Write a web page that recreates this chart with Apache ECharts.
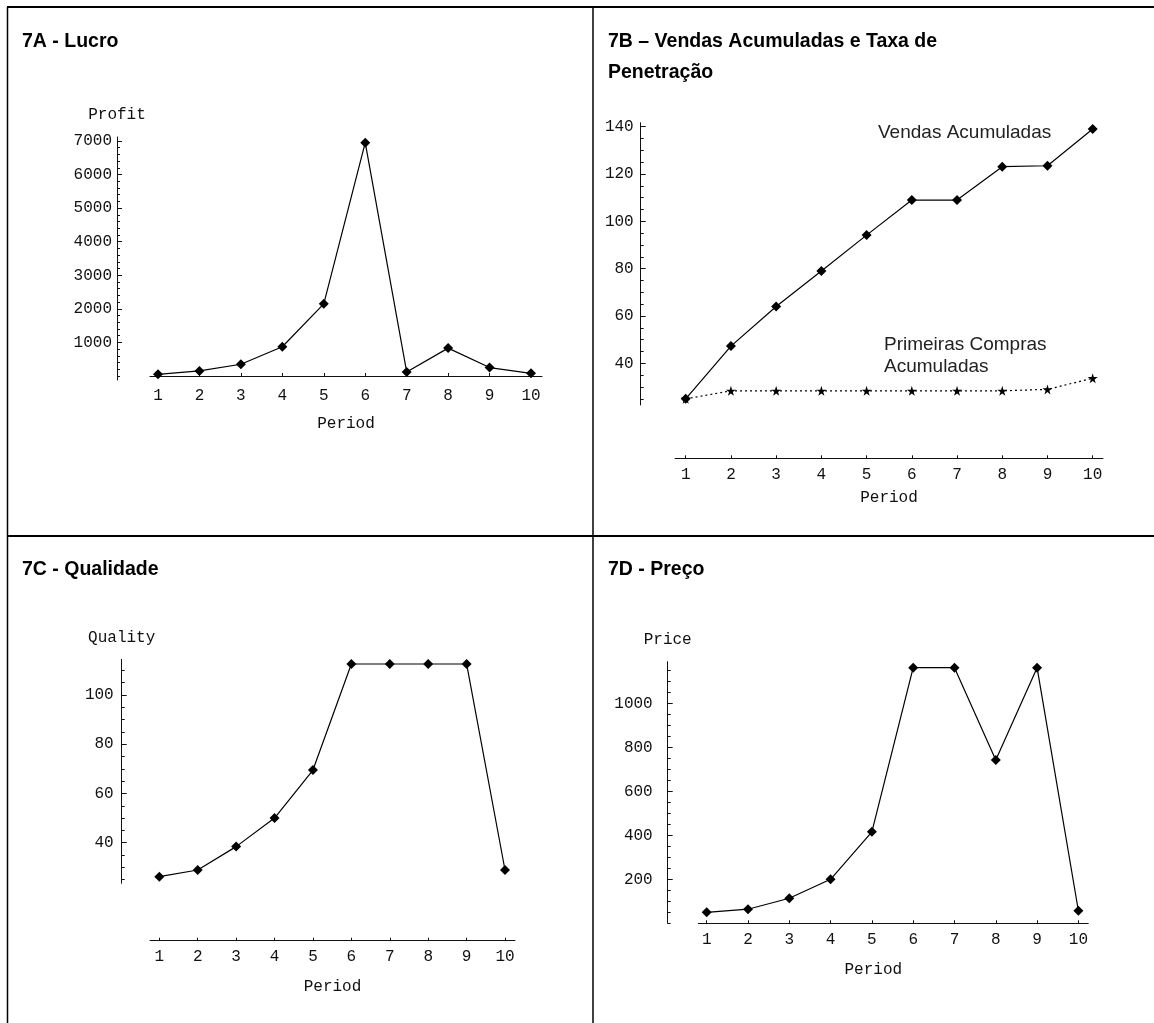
<!DOCTYPE html>
<html>
<head>
<meta charset="utf-8">
<title>Figura 7</title>
<script src="https://cdn.jsdelivr.net/npm/echarts@6.0.0/dist/echarts.min.js"></script>
<style>
  html, body { margin: 0; padding: 0; background: #fff; }
  #chart { width: 1154px; height: 1023px; }
</style>
</head>
<body>
<div id="chart"></div>
<script>
// periodos (eixo x de todos os graficos)
var periods = [1, 2, 3, 4, 5, 6, 7, 8, 9, 10];

// 7A - lucro
var profit = [50, 150, 350, 870, 2150, 6950, 120, 830, 250, 80];
var profitTicks = [1000, 2000, 3000, 4000, 5000, 6000, 7000];

// 7B - vendas acumuladas e primeiras compras acumuladas
var vendasAcum = [25, 47.3, 64, 79, 94.2, 109, 109, 123.1, 123.5, 139];
var primeirasAcum = [25, 28.4, 28.4, 28.4, 28.4, 28.4, 28.4, 28.4, 29, 33.7];
var vendasTicks = [40, 60, 80, 100, 120, 140];

// 7C - qualidade
var quality = [26.2, 28.9, 38.4, 50, 69.5, 112.6, 112.6, 112.6, 112.6, 28.9];
var qualityTicks = [40, 60, 80, 100];

// 7D - preco
var price = [50, 64, 114, 200, 416, 1162, 1162, 742, 1162, 57];
var priceTicks = [200, 400, 600, 800, 1000];

var MONO = '"Liberation Mono", "Courier New", monospace';
var SANS = '"Liberation Sans", Arial, sans-serif';
var INK = '#111';
var STAR = 'path://M50,0 L61,35 L98,35 L68,57 L79,91 L50,70 L21,91 L32,57 L2,35 L39,35 Z';

function pairs(ys) {
    return periods.map(function (p, i) { return [p, ys[i]]; });
}

// ticks menores do eixo y (so marcas, sem rotulo)
function steps(from, to, step) {
    var out = [];
    var v = Math.ceil(from / step) * step;
    for (; v <= to + 1e-9; v += step) out.push(+v.toFixed(6));
    return out;
}

// sem separador de milhar, como no Mathematica
function plain(v) { return String(v); }

// posicao de cada grafico (px) e faixa dos eixos
var panels = [
    { left: 150, top: 137, width: 392, height: 243, xMin: 0.807, xMax: 10.265,
      yMin: -120, yMax: 7120, yOffset: 33, xOffset: 0, onZero: true,
      ticks: profitTicks, minor: 200, yName: 'Profit', yMargin: 5, nameGap: 36, namePad: 0 },
    { left: 675, top: 122.7, width: 428, height: 282.3, xMin: 0.763, xMax: 10.228,
      yMin: 22.4, yMax: 141.7, yOffset: 34.3, xOffset: 53.3, onZero: false,
      ticks: vendasTicks, minor: 5, yName: '', yMargin: 7, nameGap: 31, namePad: 0 },
    { left: 150, top: 659.3, width: 365, height: 224, xMin: 0.758, xMax: 10.26,
      yMin: 23.5, yMax: 114.5, yOffset: 28.3, xOffset: 57.4, onZero: false,
      ticks: qualityTicks, minor: 5, yName: 'Quality', yMargin: 8, nameGap: 38, namePad: 0 },
    { left: 698.3, top: 661.7, width: 390, height: 261.6, xMin: 0.797, xMax: 10.24,
      yMin: 0, yMax: 1189, yOffset: 30.6, xOffset: 0, onZero: false,
      ticks: priceTicks, minor: 50, yName: 'Price', yMargin: 15, nameGap: 38, namePad: 40 }
];

var grids = [], xAxes = [], yAxes = [];
panels.forEach(function (p, i) {
    grids.push({ left: p.left, top: p.top, width: p.width, height: p.height, containLabel: false });
    xAxes.push({
        gridIndex: i, type: 'value', min: p.xMin, max: p.xMax,
        position: 'bottom', offset: p.xOffset,
        axisLine: { onZero: p.onZero, lineStyle: { color: INK, width: 1 } },
        axisTick: { customValues: periods, inside: true, length: 3, lineStyle: { color: INK } },
        axisLabel: { customValues: periods, formatter: plain, margin: 8, fontFamily: MONO, fontSize: 16, color: INK },
        splitLine: { show: false },
        name: 'Period', nameLocation: 'middle', nameGap: p.nameGap,
        nameTextStyle: { fontFamily: MONO, fontSize: 16, color: INK, padding: [0, p.namePad, 0, 0] }
    });
    // eixo principal (linha, rotulos, ticks maiores)
    yAxes.push({
        gridIndex: i, type: 'value', min: p.yMin, max: p.yMax,
        position: 'left', offset: p.yOffset,
        axisLine: { show: true, onZero: false, lineStyle: { color: INK, width: 1 } },
        axisTick: { show: true, inside: true, length: 5, customValues: p.ticks, lineStyle: { color: INK } },
        axisLabel: { customValues: p.ticks, formatter: plain, margin: p.yMargin, fontFamily: MONO, fontSize: 16, color: INK },
        splitLine: { show: false },
        name: p.yName, nameLocation: 'end', nameGap: 14,
        nameTextStyle: { fontFamily: MONO, fontSize: 16, color: INK }
    });
    // ticks menores
    yAxes.push({
        gridIndex: i, type: 'value', min: p.yMin, max: p.yMax,
        position: 'left', offset: p.yOffset,
        axisLine: { show: false, onZero: false },
        axisTick: { show: true, inside: true, length: 3, customValues: steps(p.yMin, p.yMax, p.minor), lineStyle: { color: INK } },
        axisLabel: { show: false },
        splitLine: { show: false }
    });
});

function lineSeries(idx, ys, extra) {
    var s = {
        type: 'line', xAxisIndex: idx, yAxisIndex: idx * 2, data: pairs(ys),
        symbol: 'diamond', symbolSize: 10, clip: false, silent: true,
        itemStyle: { color: '#000' },
        lineStyle: { color: '#000', width: 1.2 }
    };
    return Object.assign(s, extra || {});
}

var series = [
    lineSeries(0, profit),
    lineSeries(1, vendasAcum),
    lineSeries(1, primeirasAcum, {
        symbol: STAR, symbolSize: 10,
        lineStyle: { color: '#000', width: 1.2, type: [2, 3] }
    }),
    lineSeries(2, quality),
    lineSeries(3, price)
];

function txt(x, y, text, font, extra) {
    return {
        type: 'text', x: x, y: y, silent: true,
        style: Object.assign({ text: text, font: font, fill: '#000', verticalAlign: 'middle' }, extra || {})
    };
}
function rule(x1, y1, x2, y2, w) {
    return { type: 'line', silent: true, shape: { x1: x1, y1: y1, x2: x2, y2: y2 }, style: { stroke: '#000', lineWidth: w } };
}

var TITLE = 'bold 19.5px ' + SANS;
var NOTE = '19px ' + SANS;

var graphic = [
    rule(7, 7, 1154, 7, 2),
    rule(7.5, 7, 7.5, 1023, 1.5),
    rule(593, 7, 593, 1023, 1.5),
    rule(7, 536, 1154, 536, 2),
    txt(22, 42, '7A - Lucro', TITLE),
    txt(608, 42, '7B \u2013 Vendas Acumuladas e Taxa de', TITLE),
    txt(608, 73, 'Penetra\u00e7\u00e3o', TITLE),
    txt(22, 570, '7C - Qualidade', TITLE),
    txt(608, 570, '7D - Pre\u00e7o', TITLE),
    txt(878, 133, 'Vendas Acumuladas', NOTE, { fill: '#222' }),
    txt(884, 345, 'Primeiras Compras', NOTE, { fill: '#222' }),
    txt(884, 367, 'Acumuladas', NOTE, { fill: '#222' })
];

var chart = echarts.init(document.getElementById('chart'), null, { renderer: 'canvas' });
chart.setOption({
    animation: false,
    backgroundColor: '#fff',
    grid: grids,
    xAxis: xAxes,
    yAxis: yAxes,
    series: series,
    graphic: graphic
});
</script>
</body>
</html>
